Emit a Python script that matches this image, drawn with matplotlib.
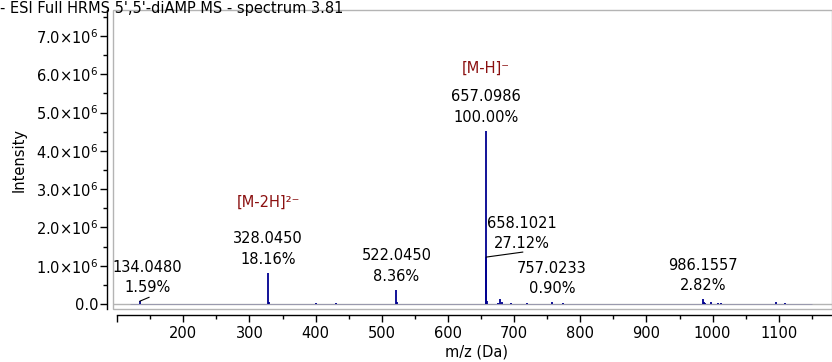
import matplotlib
matplotlib.use("Agg")
import matplotlib.pyplot as plt
from matplotlib.patches import Rectangle
from matplotlib.ticker import MultipleLocator, FuncFormatter

plt.rcParams['font.family'] = ['DejaVu Sans']
plt.rcParams['mathtext.fontset'] = 'dejavusans'

# base peak intensity (counts) -> 100 %
base_intensity = 4.52e6

# labelled peaks
peak_mz = [134.0480, 328.0450, 522.0450, 657.0986, 658.1021, 757.0233, 986.1557]
peak_pct = [1.59, 18.16, 8.36, 100.00, 27.12, 0.90, 2.82]

# small unlabelled peaks (m/z, % of base)
minor_mz = [329.05, 400.6, 430.2, 523.05, 659.10, 675.1, 678.6, 681.1, 695.0,
            720.0, 773.7, 987.16, 988.2, 997.0, 1008.0, 1013.0, 1096.5, 1110.0]
minor_pct = [1.2, 0.4, 0.3, 1.0, 2.0, 0.8, 2.9, 1.0, 0.5,
             0.3, 0.6, 1.2, 0.6, 1.0, 0.6, 0.8, 1.1, 0.3]

ion_labels = {328.0450: "[M-2H]\u00b2\u207b", 657.0986: "[M-H]\u207b"}
scan_range = (120, 1150)

navy = "#000090"
dark_red = "#8b1010"
grey = "#b4b4b4"
fs = 10.5

fig = plt.figure(figsize=(8.32, 3.62), dpi=100)
ax = fig.add_axes([113 / 832, 53 / 362, 719 / 832, 299 / 362])

all_mz = peak_mz + minor_mz
all_int = [p / 100 * base_intensity for p in peak_pct + minor_pct]

ax.axhline(0, color=grey, lw=1.0, zorder=1)
ax.hlines(0, *scan_range, color=navy, lw=0.5, alpha=0.2, zorder=2)
ax.vlines(all_mz, 0, all_int, color=navy, lw=1.3, zorder=3)

ax.set_xlim(93.7, 1180.5)
ax.set_ylim(-0.1306e6, 7.678e6)

# grey plot frame, axis lines sit outside it
ax.add_patch(Rectangle((0, 0), 1, 1, transform=ax.transAxes, fill=False,
                       edgecolor=grey, lw=1.0, clip_on=False, zorder=0))
ax.spines['top'].set_visible(False)
ax.spines['right'].set_visible(False)
ax.spines['left'].set_position(('outward', 4.3))
ax.spines['bottom'].set_position(('outward', 4.3))
ax.spines['bottom'].set_bounds(100, 1180.5)
for s in ('left', 'bottom'):
    ax.spines[s].set_linewidth(1.0)

ax.xaxis.set_major_locator(MultipleLocator(100))
ax.xaxis.set_minor_locator(MultipleLocator(50))
ax.yaxis.set_major_locator(MultipleLocator(1e6))
ax.yaxis.set_minor_locator(MultipleLocator(0.5e6))


def sci(v, pos):
    if abs(v) < 1:
        return "0.0"
    return f"{v / 1e6:.1f}" + r"$\times10^{6}$"


def mz_fmt(v, pos):
    return "" if v < 150 else f"{v:.0f}"


ax.yaxis.set_major_formatter(FuncFormatter(sci))
ax.xaxis.set_major_formatter(FuncFormatter(mz_fmt))
ax.tick_params(axis='both', which='major', direction='out', length=5,
               width=1.0, labelsize=fs, colors='black')
ax.tick_params(axis='both', which='minor', direction='out', length=3, width=1.0)
ax.tick_params(axis='y', pad=1.5)
ax.tick_params(axis='x', pad=3)

ax.set_xlabel("m/z (Da)", fontsize=fs)
ax.xaxis.label.set_va('center')
ax.xaxis.set_label_coords(0.506, -0.144)
ax.set_ylabel("Intensity", fontsize=fs)
ax.yaxis.label.set_va('center')
ax.yaxis.set_label_coords(-0.1307, 0.5)

px = 0.72  # points per pixel at 100 dpi

# text offsets (pixels) relative to each peak top
label_dx = {134.0480: 7.5, 658.1021: 35.5}
leader_end = {134.0480: (9.5, 4), 658.1021: (36.5, 5)}

for mz, pct in zip(peak_mz, peak_pct):
    h = pct / 100 * base_intensity
    dx = label_dx.get(mz, 0)
    ax.annotate(f"{pct:.2f}%", xy=(mz, h), xytext=(dx * px, 13.5 * px),
                textcoords='offset points', ha='center', va='center', fontsize=fs)
    ax.annotate(f"{mz:.4f}", xy=(mz, h), xytext=(dx * px, 34 * px),
                textcoords='offset points', ha='center', va='center', fontsize=fs)
    if mz in ion_labels:
        up = 70.5 if mz < 500 else 63
        ax.annotate(ion_labels[mz], xy=(mz, h), xytext=(0, up * px),
                    textcoords='offset points', ha='center', va='center',
                    fontsize=fs, color=dark_red)
    if mz in leader_end:
        ex, ey = leader_end[mz]
        ax.annotate("", xy=(mz, h), xytext=(ex * px, ey * px),
                    textcoords='offset points',
                    arrowprops=dict(arrowstyle='-', lw=0.8, color='black',
                                    shrinkA=0, shrinkB=0))

fig.text(0, 1 - 8 / 362, "- ESI Full HRMS 5',5'-diAMP MS - spectrum 3.81",
         ha='left', va='center', fontsize=fs)

fig.savefig("out.png", dpi=100)
